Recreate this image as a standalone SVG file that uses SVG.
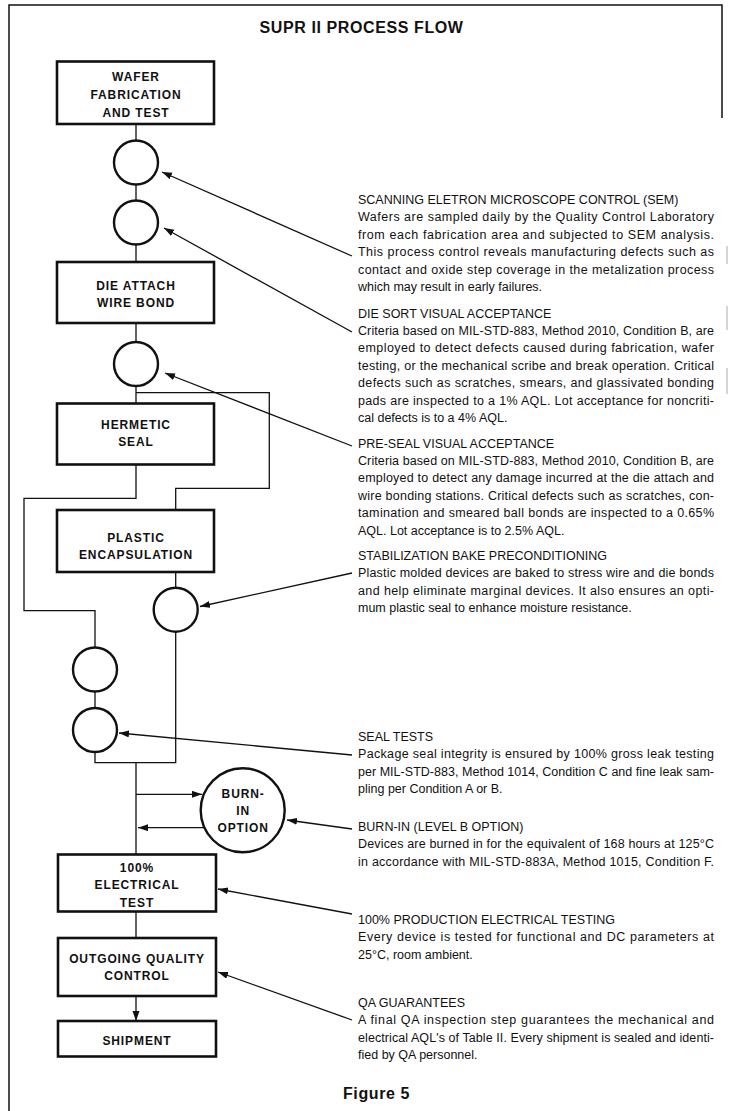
<svg xmlns="http://www.w3.org/2000/svg" width="734" height="1111" viewBox="0 0 734 1111">
<style>
.box{fill:#fff;stroke:#111;stroke-width:2.6}
.circ{fill:#fff;stroke:#111;stroke-width:2.4}
.ln{fill:none;stroke:#111;stroke-width:1.3}
.lab{font-family:"Liberation Sans",Arial,sans-serif;font-weight:bold;font-size:12px;letter-spacing:0.9px;text-anchor:middle;fill:#111}
.tx{font-family:"Liberation Sans",Arial,sans-serif;font-size:12.5px;fill:#111}
.ttl{font-family:"Liberation Sans",Arial,sans-serif;font-weight:bold;font-size:16px;letter-spacing:0.6px;fill:#111}
.brd{fill:none;stroke:#111;stroke-width:1.5}
</style>
<defs>
<marker id="ah" markerUnits="userSpaceOnUse" markerWidth="11" markerHeight="8" refX="10" refY="3.5" orient="auto">
<path d="M0,0 L10,3.5 L0,7 z" fill="#111"/>
</marker>
</defs>
<rect width="734" height="1111" fill="#fff"/>
<g id="border">
<path class="brd" d="M9,1111 V5 H722 V118"/>
<path d="M727,246 V264 M727,306 V330 M727,368 V394" stroke="#bbb" stroke-width="1.2" fill="none"/>
</g>
<text class="ttl" x="361.5" y="33" text-anchor="middle">SUPR II PROCESS FLOW</text>

<g id="connectors">
<path class="ln" d="M136,124 V140.5 M136,184.5 V200.5 M136,244.5 V262 M136,323 V342 M136,386 V403.5"/>
<path class="ln" d="M136,392.7 H269.3 V488.3 H175.7 V510"/>
<path class="ln" d="M136,464.5 V498.3 H24 V610.7 H95 V647.5 M95,691.5 V708"/>
<path class="ln" d="M175.7,572 V587.7 M175.7,631.7 V762.7 H95 V752"/>
<path class="ln" d="M136,762.7 V854.5 M136,911.5 V938"/>
<path class="ln" d="M136,794.3 H202" marker-end="url(#ah)"/>
<path class="ln" d="M204.5,827.7 H138" marker-end="url(#ah)"/>
<path class="ln" d="M136,996 V1021" marker-end="url(#ah)"/>
<path class="ln" d="M352,256 L162,172" marker-end="url(#ah)"/>
<path class="ln" d="M352,332 L164,228" marker-end="url(#ah)"/>
<path class="ln" d="M352,446 L165,373" marker-end="url(#ah)"/>
<path class="ln" d="M352,573 L200,606.5" marker-end="url(#ah)"/>
<path class="ln" d="M352,755 L119,733" marker-end="url(#ah)"/>
<path class="ln" d="M352,829 L287,820" marker-end="url(#ah)"/>
<path class="ln" d="M352,914 L218,889" marker-end="url(#ah)"/>
<path class="ln" d="M352,1020 L218,972" marker-end="url(#ah)"/>
</g>

<g id="wafer">
<rect class="box" x="57" y="61.5" width="157" height="62.5"/>
<text class="lab" x="136" y="80.5">WAFER</text>
<text class="lab" x="136" y="98.5">FABRICATION</text>
<text class="lab" x="136" y="116.5">AND TEST</text>
</g>
<g id="c1"><circle class="circ" cx="136" cy="162.5" r="22"/></g>
<g id="c2"><circle class="circ" cx="136" cy="222.5" r="22"/></g>
<g id="dieattach">
<rect class="box" x="57" y="262" width="157" height="61"/>
<text class="lab" x="136" y="289.5">DIE ATTACH</text>
<text class="lab" x="136" y="306.5">WIRE BOND</text>
</g>
<g id="c3"><circle class="circ" cx="136" cy="364" r="22"/></g>
<g id="hermetic">
<rect class="box" x="57" y="403.5" width="157" height="61"/>
<text class="lab" x="136" y="428.5">HERMETIC</text>
<text class="lab" x="136" y="446">SEAL</text>
</g>
<g id="plastic">
<rect class="box" x="57" y="510" width="157" height="62"/>
<text class="lab" x="136" y="541.5">PLASTIC</text>
<text class="lab" x="136" y="558.5">ENCAPSULATION</text>
</g>
<g id="c4"><circle class="circ" cx="175.7" cy="609.7" r="22"/></g>
<g id="c5"><circle class="circ" cx="95" cy="669.5" r="22"/></g>
<g id="c6"><circle class="circ" cx="95" cy="730" r="22"/></g>
<g id="burnin">
<circle class="circ" cx="242.7" cy="810.3" r="42"/>
<text class="lab" x="243.2" y="797.5">BURN-</text>
<text class="lab" x="243.2" y="814.5">IN</text>
<text class="lab" x="243.2" y="831.5">OPTION</text>
</g>
<g id="electrical">
<rect class="box" x="58" y="854.5" width="158" height="57"/>
<text class="lab" x="137" y="871.5" font-weight="normal">100%</text>
<text class="lab" x="137" y="889">ELECTRICAL</text>
<text class="lab" x="137" y="906.5">TEST</text>
</g>
<g id="oqc">
<rect class="box" x="58" y="938" width="158" height="58"/>
<text class="lab" x="137" y="962.5">OUTGOING QUALITY</text>
<text class="lab" x="137" y="980">CONTROL</text>
</g>
<g id="shipment">
<rect class="box" x="58" y="1021" width="158" height="35.5"/>
<text class="lab" x="137" y="1044.5">SHIPMENT</text>
</g>

<g id="notes" class="tx">
<text x="358" y="204">SCANNING ELETRON MICROSCOPE CONTROL (SEM)</text>
<text x="358" y="221.4" textLength="356" lengthAdjust="spacing">Wafers are sampled daily by the Quality Control Laboratory</text>
<text x="358" y="238.8" textLength="356" lengthAdjust="spacing">from each fabrication area and subjected to SEM analysis.</text>
<text x="358" y="256.2" textLength="356" lengthAdjust="spacing">This process control reveals manufacturing defects such as</text>
<text x="358" y="273.6" textLength="356" lengthAdjust="spacing">contact and oxide step coverage in the metalization process</text>
<text x="358" y="291">which may result in early failures.</text>

<text x="358" y="317.5">DIE SORT VISUAL ACCEPTANCE</text>
<text x="358" y="334.9" textLength="356" lengthAdjust="spacing">Criteria based on MIL-STD-883, Method 2010, Condition B, are</text>
<text x="358" y="352.3" textLength="356" lengthAdjust="spacing">employed to detect defects caused during fabrication, wafer</text>
<text x="358" y="369.7" textLength="356" lengthAdjust="spacing">testing, or the mechanical scribe and break operation. Critical</text>
<text x="358" y="387.1" textLength="356" lengthAdjust="spacing">defects such as scratches, smears, and glassivated bonding</text>
<text x="358" y="404.5" textLength="356" lengthAdjust="spacing">pads are inspected to a 1% AQL. Lot acceptance for noncriti-</text>
<text x="358" y="421.9">cal defects is to a 4% AQL.</text>

<text x="358" y="447.5">PRE-SEAL VISUAL ACCEPTANCE</text>
<text x="358" y="464.9" textLength="356" lengthAdjust="spacing">Criteria based on MIL-STD-883, Method 2010, Condition B, are</text>
<text x="358" y="482.3" textLength="356" lengthAdjust="spacing">employed to detect any damage incurred at the die attach and</text>
<text x="358" y="499.7" textLength="356" lengthAdjust="spacing">wire bonding stations. Critical defects such as scratches, con-</text>
<text x="358" y="517.1" textLength="356" lengthAdjust="spacing">tamination and smeared ball bonds are inspected to a 0.65%</text>
<text x="358" y="534.5">AQL. Lot acceptance is to 2.5% AQL.</text>

<text x="358" y="560">STABILIZATION BAKE PRECONDITIONING</text>
<text x="358" y="577.4" textLength="356" lengthAdjust="spacing">Plastic molded devices are baked to stress wire and die bonds</text>
<text x="358" y="594.8" textLength="356" lengthAdjust="spacing">and help eliminate marginal devices. It also ensures an opti-</text>
<text x="358" y="612.2">mum plastic seal to enhance moisture resistance.</text>

<text x="358" y="741">SEAL TESTS</text>
<text x="358" y="758.4" textLength="356" lengthAdjust="spacing">Package seal integrity is ensured by 100% gross leak testing</text>
<text x="358" y="775.8" textLength="356" lengthAdjust="spacing">per MIL-STD-883, Method 1014, Condition C and fine leak sam-</text>
<text x="358" y="793.2">pling per Condition A or B.</text>

<text x="358" y="831">BURN-IN (LEVEL B OPTION)</text>
<text x="358" y="848.4" textLength="356" lengthAdjust="spacing">Devices are burned in for the equivalent of 168 hours at 125°C</text>
<text x="358" y="865.8" textLength="356" lengthAdjust="spacing">in accordance with MIL-STD-883A, Method 1015, Condition F.</text>

<text x="358" y="924">100% PRODUCTION ELECTRICAL TESTING</text>
<text x="358" y="941.4" textLength="356" lengthAdjust="spacing">Every device is tested for functional and DC parameters at</text>
<text x="358" y="958.8">25°C, room ambient.</text>

<text x="358" y="1007">QA GUARANTEES</text>
<text x="358" y="1024.4" textLength="356" lengthAdjust="spacing">A final QA inspection step guarantees the mechanical and</text>
<text x="358" y="1041.8" textLength="356" lengthAdjust="spacing">electrical AQL's of Table II. Every shipment is sealed and identi-</text>
<text x="358" y="1059.2">fied by QA personnel.</text>
</g>
<text class="ttl" x="343" y="1099" letter-spacing="0.8">Figure 5</text>
</svg>
